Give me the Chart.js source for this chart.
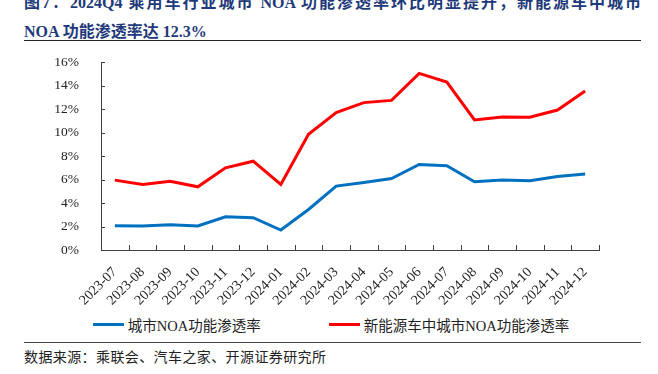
<!DOCTYPE html>
<html>
<head>
<meta charset="utf-8">
<script src="https://cdn.jsdelivr.net/npm/chart.js@4.4.1/dist/chart.umd.min.js"></script>
<style>
    body { margin: 0; background: #fff; width: 658px; height: 374px; overflow: hidden; position: relative; }
    .title { position: absolute; left: 24px; width: 617px; color: #1f3a7a; font: bold 16px "Liberation Serif", "Noto Sans CJK SC", serif; white-space: nowrap; }
    .title.l1 { top: -11px; text-align: justify; text-align-last: justify; white-space: normal; }
    .title.l2 { top: 18px; }
    .rule { position: absolute; left: 24px; width: 617px; height: 0; }
    .rule.top { top: 40px; border-top: 1.5px solid #222; }
    .rule.bottom { top: 342px; border-top: 1.5px solid #444; }
    .source { position: absolute; left: 24px; top: 346px; font: 14px "Noto Sans CJK SC", sans-serif; letter-spacing: 0.4px; color: #222; }
    #chartBox { position: absolute; left: 0; top: 40px; width: 658px; height: 270px; }
    #legend { position: absolute; left: 0; top: 314px; width: 662px; display: flex; justify-content: center; gap: 68px; font: 14.5px "Liberation Serif", "Noto Sans CJK SC", serif; color: #222; }
    .item { display: flex; align-items: center; }
    .swatch { display: inline-block; width: 31px; height: 3px; margin-right: 4px; }
</style>
</head>
<body>
<div class="title l1">图7：2024Q4 乘用车行业城市 NOA 功能渗透率环比明显提升，新能源车中城市</div>
<div class="title l2">NOA 功能渗透率达 12.3%</div>
<div class="rule top"></div>
<div id="chartBox"><canvas id="noaChart"></canvas></div>
<div id="legend"></div>
<div class="rule bottom"></div>
<div class="source">数据来源：乘联会、汽车之家、开源证券研究所</div>

<script>
const months = ['2023-07', '2023-08', '2023-09', '2023-10', '2023-11', '2023-12',
    '2024-01', '2024-02', '2024-03', '2024-04', '2024-05', '2024-06',
    '2024-07', '2024-08', '2024-09', '2024-10', '2024-11', '2024-12'];

// 城市NOA功能渗透率 (%)
const cityNoaRate = [2.07, 2.04, 2.15, 2.04, 2.83, 2.75, 1.70, 3.45, 5.44, 5.75, 6.09, 7.28,
    7.17, 5.81, 5.95, 5.89, 6.26, 6.48];

// 新能源车中城市NOA功能渗透率 (%)
const nevCityNoaRate = [5.95, 5.58, 5.86, 5.38, 7.00, 7.56, 5.58, 9.86, 11.70, 12.55, 12.74, 15.04,
    14.30, 11.07, 11.33, 11.30, 11.92, 13.53];

const yTicks = [0, 2, 4, 6, 8, 10, 12, 14, 16];

const axisColor = '#404040';
const serif = '"Liberation Serif", "Times New Roman", serif';

// short tick marks pointing into the plot area
const innerTicks = {
    id: 'innerTicks',
    afterDraw(chart) {
        const ctx = chart.ctx;
        const area = chart.chartArea;
        const y = chart.scales.y;
        ctx.save();
        ctx.strokeStyle = axisColor;
        ctx.lineWidth = 1;
        ctx.beginPath();
        yTicks.forEach(v => {
            if (v === 0) return;
            const py = Math.round(y.getPixelForValue(v)) + 0.5;
            ctx.moveTo(area.left, py);
            ctx.lineTo(area.left + 4, py);
        });
        const step = (area.right - area.left) / months.length;
        for (let i = 1; i <= months.length; i++) {
            const px = Math.round(area.left + i * step) + 0.5;
            ctx.moveTo(px, area.bottom);
            ctx.lineTo(px, area.bottom - 5);
        }
        ctx.stroke();
        ctx.restore();
    }
};

const chart = new Chart(document.getElementById('noaChart'), {
    type: 'line',
    data: {
        labels: months,
        datasets: [
            {
                label: '城市NOA功能渗透率',
                data: cityNoaRate,
                borderColor: '#0070c0',
                backgroundColor: '#0070c0',
                borderWidth: 3,
                pointRadius: 0,
                tension: 0
            },
            {
                label: '新能源车中城市NOA功能渗透率',
                data: nevCityNoaRate,
                borderColor: '#ff0000',
                backgroundColor: '#ff0000',
                borderWidth: 3,
                pointRadius: 0,
                tension: 0
            }
        ]
    },
    options: {
        responsive: true,
        maintainAspectRatio: false,
        animation: false,
        layout: {
            padding: { top: 10, left: 0, right: 59, bottom: 0 }
        },
        plugins: {
            legend: { display: false },
            tooltip: { enabled: false }
        },
        scales: {
            x: {
                offset: true,
                afterFit: scale => { scale.height = 60; },
                grid: { display: false, offset: true },
                border: { display: true, color: axisColor, width: 1 },
                ticks: {
                    color: '#222',
                    font: { family: serif, size: 14 },
                    maxRotation: 45,
                    minRotation: 45,
                    padding: 6,
                    autoSkip: false
                }
            },
            y: {
                min: 0,
                max: 16,
                afterFit: scale => { scale.width = 101; },
                afterBuildTicks: scale => { scale.ticks = yTicks.map(v => ({ value: v })); },
                grid: { display: false },
                border: { display: true, color: axisColor, width: 1 },
                ticks: {
                    color: '#222',
                    font: { family: serif, size: 13.5 },
                    padding: 14,
                    callback: v => v + '%'
                }
            }
        }
    },
    plugins: [innerTicks]
});

// legend built from the chart's datasets
const legendBox = document.getElementById('legend');
chart.data.datasets.forEach(ds => {
    const item = document.createElement('div');
    item.className = 'item';
    const sw = document.createElement('span');
    sw.className = 'swatch';
    sw.style.background = ds.borderColor;
    const txt = document.createElement('span');
    txt.textContent = ds.label;
    item.appendChild(sw);
    item.appendChild(txt);
    legendBox.appendChild(item);
});
</script>
</body>
</html>
